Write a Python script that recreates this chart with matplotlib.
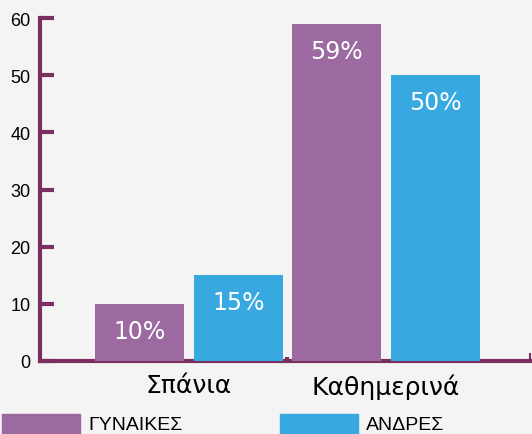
import matplotlib
matplotlib.use("Agg")
import matplotlib.pyplot as plt
import numpy as np
from matplotlib.patches import Rectangle

categories = ["Σπάνια", "Καθημερινά"]
women = [10, 59]
men = [15, 50]
series_names = ["ΓΥΝΑΙΚΕΣ", "ΑΝΔΡΕΣ"]
yticks = [0, 10, 20, 30, 40, 50, 60]

bg = "#f4f4f4"
c_w = "#9c6aa0"
c_m = "#37a9e0"
c_ax = "#7b2f5f"

fig = plt.figure(figsize=(5.32, 4.35), dpi=100, facecolor=bg)
W, H = 532, 435
ax = fig.add_axes([40 / W, (H - 362) / H, (530 - 40) / W, (362 - 19) / H])
ax.set_facecolor(bg)

x = np.arange(len(categories))
bw = 0.452
off = 0.25
b1 = ax.bar(x - off, women, bw, color=c_w, zorder=1)
b2 = ax.bar(x + off, men, bw, color=c_m, zorder=1)

label_font = ["DejaVu Sans"]
for bars, vals in ((b1, women), (b2, men)):
    for rect, v in zip(bars, vals):
        cx = rect.get_x() + rect.get_width() / 2
        ax.text(cx, v - 2.6, f"{v}%", ha="center", va="top", color="white",
                fontsize=17, family=label_font)

ax.set_xlim(-0.756, 1.731)
ax.set_ylim(0, 60)
ax.set_yticks(yticks)
ax.set_yticklabels([str(t) for t in yticks], family="Liberation Sans", fontsize=13)
ax.set_xticks(x)
ax.set_xticklabels(categories, fontsize=18, family=label_font)
ax.tick_params(axis="x", length=0, pad=9)
ax.tick_params(axis="y", direction="in", length=10, width=3, color=c_ax, pad=7)
ax.set_xticks([0.5], minor=True)
ax.tick_params(axis="x", which="minor", direction="in", length=3, width=3, color=c_ax)

for s in ("top", "right"):
    ax.spines[s].set_visible(False)
for s in ("left", "bottom"):
    ax.spines[s].set_color(c_ax)
    ax.spines[s].set_linewidth(3)
    ax.spines[s].set_zorder(0.5)

# right end small tick
ax.plot([1.731, 1.731], [0, 1.3], color=c_ax, lw=1.5, clip_on=False, zorder=0.5)

# legend
fig.patches.append(Rectangle((2 / W, 0), 78 / W, 20 / H, transform=fig.transFigure,
                             color=c_w, zorder=2))
fig.text(88 / W, 9 / H, series_names[0], ha="left", va="center",
         family="Liberation Sans", fontsize=14)
fig.patches.append(Rectangle((280 / W, 0), 78 / W, 20 / H, transform=fig.transFigure,
                             color=c_m, zorder=2))
fig.text(366 / W, 9 / H, series_names[1], ha="left", va="center",
         family="Liberation Sans", fontsize=14)

fig.savefig("out.png", dpi=100, facecolor=bg)
